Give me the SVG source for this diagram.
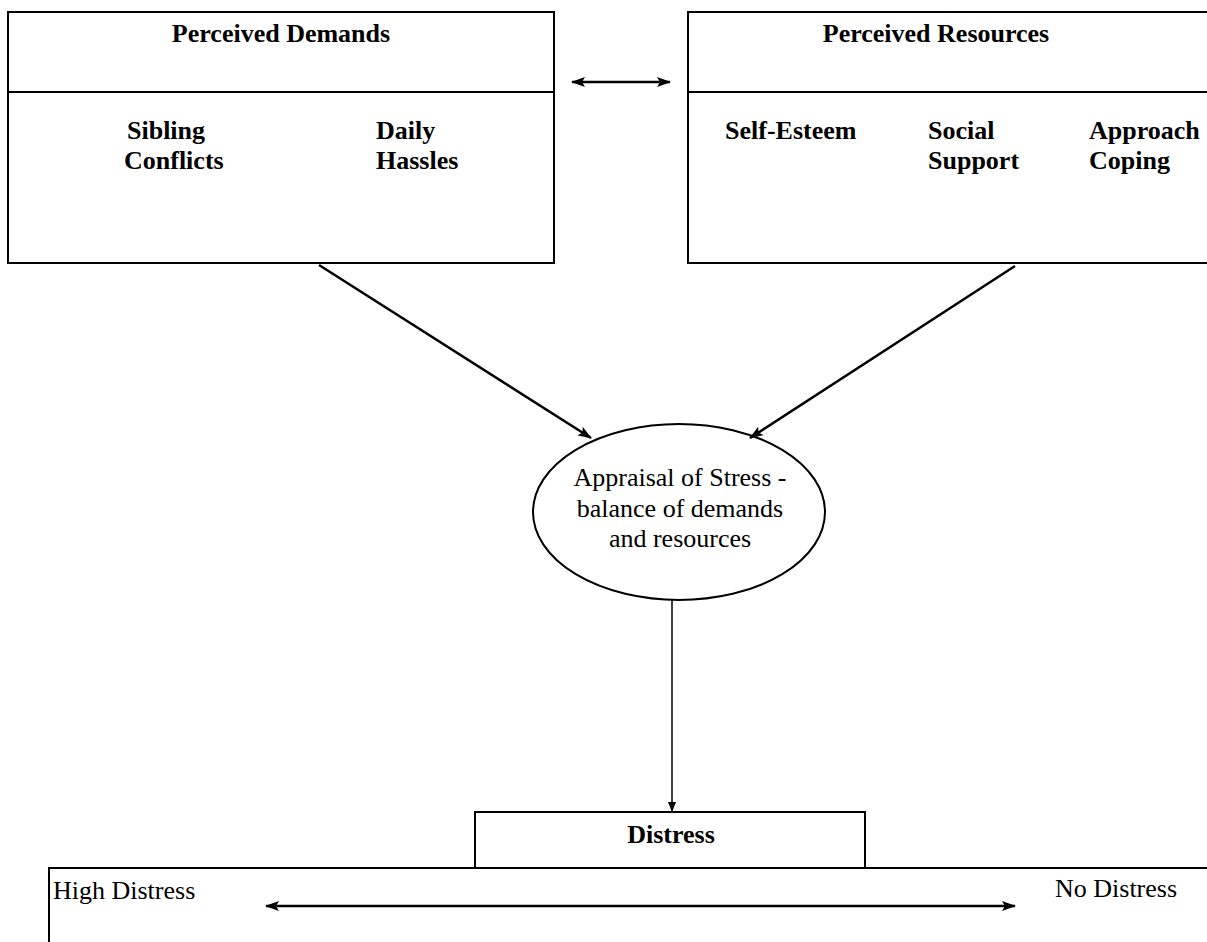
<svg xmlns="http://www.w3.org/2000/svg" width="1207" height="942" viewBox="0 0 1207 942">
<style>
.box{fill:#fff;stroke:#000;stroke-width:2}
.div{stroke:#000;stroke-width:2}
.b{font-family:"Liberation Serif",serif;font-weight:bold;font-size:26px;fill:#000}
.r{font-family:"Liberation Serif",serif;font-size:26px;fill:#000}
.c{text-anchor:middle}
.con{stroke:#000;fill:none}
</style>
<defs>
<marker id="ah" viewBox="0 0 14 10" refX="13" refY="5" markerWidth="14" markerHeight="10" markerUnits="userSpaceOnUse" orient="auto-start-reverse">
<path d="M0,0 L14,5 L0,10 L3,5 z" fill="#000"/>
</marker>
<marker id="ahs" viewBox="0 0 10 8" refX="10" refY="4" markerWidth="10" markerHeight="8" markerUnits="userSpaceOnUse" orient="auto">
<path d="M0,0 L10,4 L0,8 z" fill="#000"/>
</marker>
</defs>
<rect width="1207" height="942" fill="#fff"/>
<g id="demands">
<rect class="box" x="8" y="12" width="546" height="251"/>
<line class="div" x1="8" y1="92" x2="554" y2="92"/>
<text class="b c" x="281" y="42">Perceived Demands</text>
<text class="b" x="127" y="139">Sibling</text>
<text class="b" x="124" y="169">Conflicts</text>
<text class="b" x="376" y="139">Daily</text>
<text class="b" x="376" y="169">Hassles</text>
</g>
<g id="resources">
<rect class="box" x="688" y="12" width="530" height="251"/>
<line class="div" x1="688" y1="92" x2="1210" y2="92"/>
<text class="b c" x="936" y="42">Perceived Resources</text>
<text class="b" x="725" y="139">Self-Esteem</text>
<text class="b" x="928" y="139">Social</text>
<text class="b" x="928" y="169">Support</text>
<text class="b" x="1089" y="139">Approach</text>
<text class="b" x="1089" y="169">Coping</text>
</g>
<g id="appraisal">
<ellipse cx="679" cy="512" rx="146" ry="88" fill="#fff" stroke="#000" stroke-width="2"/>
<text class="r c" x="680" y="486">Appraisal of Stress -</text>
<text class="r c" x="680" y="517">balance of demands</text>
<text class="r c" x="680" y="547">and resources</text>
</g>
<g id="distress-scale">
<polyline class="con" points="49,942 49,868 1210,868" stroke-width="2"/>
<text class="r" x="53" y="899">High Distress</text>
<text class="r" x="1055" y="897">No Distress</text>
</g>
<g id="distress">
<rect class="box" x="475" y="812" width="390" height="56"/>
<text class="b c" x="671" y="843">Distress</text>
</g>
<g id="connectors">
<line class="con" x1="572" y1="82" x2="670" y2="82" stroke-width="2.5" marker-start="url(#ah)" marker-end="url(#ah)"/>
<line class="con" x1="319" y1="265" x2="591" y2="438" stroke-width="2.5" marker-end="url(#ah)"/>
<line class="con" x1="1015" y1="266" x2="750" y2="438" stroke-width="2.5" marker-end="url(#ah)"/>
<line class="con" x1="672" y1="600" x2="672" y2="812" stroke-width="1.5" marker-end="url(#ahs)"/>
<line class="con" x1="266" y1="906" x2="1015" y2="906" stroke-width="2.5" marker-start="url(#ah)" marker-end="url(#ah)"/>
</g>
</svg>
